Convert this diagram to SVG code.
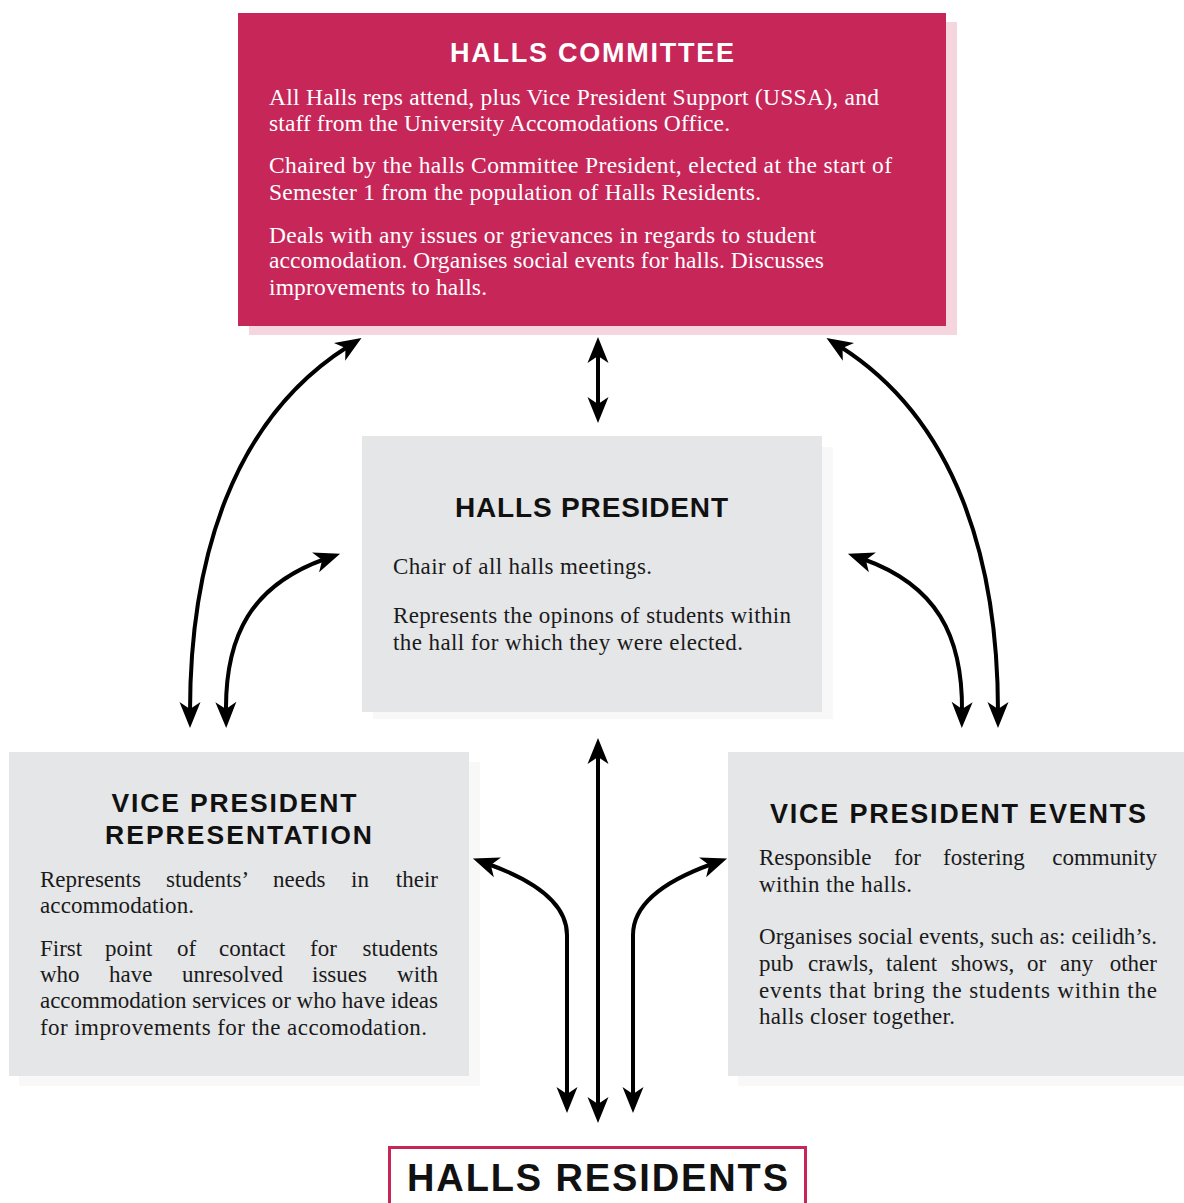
<svg xmlns="http://www.w3.org/2000/svg" width="1184" height="1203" viewBox="0 0 1184 1203">
<style>
.head{font-family:"Liberation Sans",Arial,sans-serif;font-weight:700;fill:#111;}
.body{font-family:"Liberation Serif","Times New Roman",serif;font-size:23px;fill:#1a1a1a;}
.wbody{font-family:"Liberation Serif","Times New Roman",serif;font-size:23.5px;fill:#fff;}
.conn{fill:none;stroke:#000;stroke-width:4;marker-start:url(#ah);marker-end:url(#ah);}
.gray{fill:#e5e6e8;}
.gshadow{fill:#f8f8f8;}
.end{text-anchor:end;}
</style>
<defs>
<marker id="ah" viewBox="-27 -11 28 22" refX="-16" refY="0" markerWidth="28" markerHeight="22" markerUnits="userSpaceOnUse" orient="auto-start-reverse">
<path d="M0,0 L-26,-10.5 L-19,0 L-26,10.5 Z" fill="#000"/>
</marker>
</defs>
<rect width="1184" height="1203" fill="#fff"/>

<g id="node-halls-committee">
<rect x="249" y="22" width="708" height="313" fill="#f5d5de"/>
<rect x="238" y="13" width="708" height="313" fill="#c72659"/>
<text class="head" x="592" y="62" font-size="27" text-anchor="middle" style="fill:#fff" textLength="284" lengthAdjust="spacing">HALLS COMMITTEE</text>
<text class="wbody">
<tspan x="269" y="105" textLength="610" lengthAdjust="spacing">All Halls reps attend, plus Vice President Support (USSA), and</tspan>
<tspan x="269" y="131" textLength="461" lengthAdjust="spacing">staff from the University Accomodations Office.</tspan>
<tspan x="269" y="173" textLength="623" lengthAdjust="spacing">Chaired by the halls Committee President, elected at the start of</tspan>
<tspan x="269" y="200" textLength="492" lengthAdjust="spacing">Semester 1 from the population of Halls Residents.</tspan>
<tspan x="269" y="243" textLength="547" lengthAdjust="spacing">Deals with any issues or grievances in regards to student</tspan>
<tspan x="269" y="268" textLength="555" lengthAdjust="spacing">accomodation. Organises social events for halls. Discusses</tspan>
<tspan x="269" y="295" textLength="218" lengthAdjust="spacing">improvements to halls.</tspan>
</text>
</g>

<g id="node-halls-president">
<rect class="gshadow" x="373" y="447" width="460" height="272"/>
<rect class="gray" x="362" y="436" width="460" height="276"/>
<text class="head" x="591.5" y="517" font-size="28" text-anchor="middle" textLength="273" lengthAdjust="spacing">HALLS PRESIDENT</text>
<text class="body">
<tspan x="393" y="574" textLength="259" lengthAdjust="spacing">Chair of all halls meetings.</tspan>
<tspan x="393" y="623" textLength="398" lengthAdjust="spacing">Represents the opinons of students within</tspan>
<tspan x="393" y="650" textLength="350" lengthAdjust="spacing">the hall for which they were elected.</tspan>
</text>
</g>

<g id="node-vp-representation">
<rect class="gshadow" x="19" y="762" width="461" height="324"/>
<rect class="gray" x="9" y="752" width="460" height="324"/>
<text class="head" font-size="26.5" text-anchor="middle">
<tspan x="238.5" y="812" textLength="245" lengthAdjust="spacing">VICE PRESIDENT</tspan>
<tspan x="238.5" y="844" textLength="267" lengthAdjust="spacing">REPRESENTATION</tspan>
</text>
<text class="body" y="887"><tspan x="40">Represents</tspan><tspan x="166">students’</tspan><tspan x="273">needs</tspan><tspan x="351">in</tspan><tspan x="438" class="end">their</tspan></text>
<text class="body" x="40" y="913" textLength="154" lengthAdjust="spacing">accommodation.</text>
<text class="body" y="956"><tspan x="40">First</tspan><tspan x="105">point</tspan><tspan x="177">of</tspan><tspan x="219">contact</tspan><tspan x="310">for</tspan><tspan x="438" class="end">students</tspan></text>
<text class="body" y="982"><tspan x="40">who</tspan><tspan x="109">have</tspan><tspan x="182">unresolved</tspan><tspan x="312">issues</tspan><tspan x="438" class="end">with</tspan></text>
<text class="body" x="40" y="1008" textLength="398" lengthAdjust="spacing">accommodation services or who have ideas</text>
<text class="body" x="40" y="1035" textLength="387" lengthAdjust="spacing">for improvements for the accomodation.</text>
</g>

<g id="node-vp-events">
<rect class="gshadow" x="738" y="762" width="446" height="324"/>
<rect class="gray" x="728" y="752" width="456" height="324"/>
<text class="head" x="958" y="823" font-size="27" text-anchor="middle" textLength="376" lengthAdjust="spacing">VICE PRESIDENT EVENTS</text>
<text class="body" y="865"><tspan x="759">Responsible</tspan><tspan x="894">for</tspan><tspan x="943">fostering</tspan><tspan x="1157" class="end">community</tspan></text>
<text class="body" x="759" y="892" textLength="153" lengthAdjust="spacing">within the halls.</text>
<text class="body" x="759" y="944" textLength="398" lengthAdjust="spacing">Organises social events, such as: ceilidh’s.</text>
<text class="body" y="971"><tspan x="759">pub</tspan><tspan x="808">crawls,</tspan><tspan x="886">talent</tspan><tspan x="951">shows,</tspan><tspan x="1027">or</tspan><tspan x="1060">any</tspan><tspan x="1157" class="end">other</tspan></text>
<text class="body" x="759" y="998" textLength="398" lengthAdjust="spacing">events that bring the students within the</text>
<text class="body" x="759" y="1024" textLength="196" lengthAdjust="spacing">halls closer together.</text>
</g>

<g id="node-halls-residents">
<rect x="389.5" y="1147.5" width="416" height="70" fill="#fff" stroke="#c72659" stroke-width="3"/>
<text class="head" x="597.5" y="1191" font-size="38" text-anchor="middle" textLength="381" lengthAdjust="spacing">HALLS RESIDENTS</text>
</g>

<g id="connectors">
<path class="conn" d="M190,712 C190,560 232,420 348,346.5"/>
<path class="conn" d="M226,712 C225,635 252,585 325,559"/>
<path class="conn" d="M998,712 C998,560 956,420 840,346.5"/>
<path class="conn" d="M962,712 C963,635 936,585 863,559"/>
<path class="conn" d="M598,353 L598,407"/>
<path class="conn" d="M598,754 L598,1107"/>
<path class="conn" d="M488,864 C527,878 567,900 567,935 L567,1097"/>
<path class="conn" d="M712,864 C673,878 633,900 633,935 L633,1097"/>
</g>
</svg>
